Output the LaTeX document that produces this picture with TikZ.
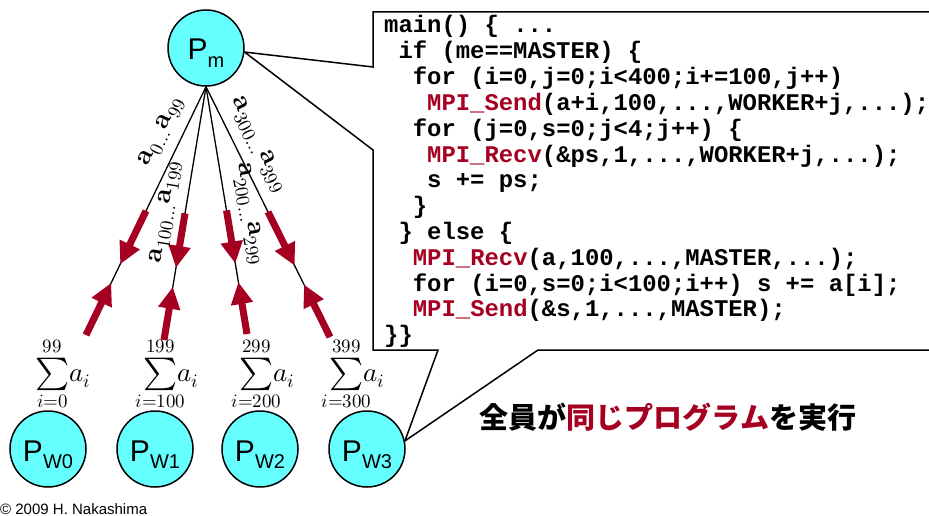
\documentclass[tikz,border=0pt]{standalone}
\usepackage{fontspec}
\usepackage{unicode-math}
\setmathfont{Latin Modern Math}
\usetikzlibrary{calc,arrows.meta}
\newfontfamily\sansf{Liberation Sans}
\newfontfamily\codefont{Liberation Mono}
\newfontfamily\cjk{Noto Sans CJK JP}
\definecolor{crim}{RGB}{165,0,33}
\definecolor{cyanfill}{RGB}{102,255,255}
\newcommand\plabel[1]{{\sansf\fontsize{30}{30}\selectfont P}\raisebox{-7.5pt}{\sansf\fontsize{20}{20}\selectfont #1}}
\newcommand\mpi[1]{\textcolor{crim}{#1}}
\newcommand\limclap[1]{\makebox[0pt]{$\scriptstyle #1$}}
\newcommand\partsum[2]{\mathop{\vcenter{\hbox{\scalebox{1.2}{$\sum$}}}}\limits_{\limclap{i=#1}}^{\limclap{#2}}\!a_i}
\pgfdeclarelayer{background}
\pgfsetlayers{background,main}
\begin{document}
\begin{tikzpicture}[x=1pt,y=-1pt,
  proc/.style={circle, draw, line width=1.5pt, fill=cyanfill, minimum size=76pt,
    inner sep=0pt, text height=31.5pt, text depth=7.5pt},
  fan/.style={line width=1.3pt},
  redarrow/.style={line width=7pt, draw=crim, -{Triangle[width=21pt,length=22pt]}},
  code/.style={anchor=base west, inner sep=0pt,
    font=\codefont\bfseries\fontsize{23.9}{25}\selectfont},
  elabel/.style={inner sep=0pt, font=\fontsize{27}{27}\selectfont},
  sumlbl/.style={inner sep=0pt, font=\fontsize{27}{30}\selectfont}]
\clip (0,0) rectangle (929,516);

% processes
\node[proc] (Pm) at (206,48) {\plabel{m}};
\node[proc] (W0) at (48,449) {\plabel{W0}};
\node[proc] (W1) at (155,449) {\plabel{W1}};
\node[proc] (W2) at (260,449) {\plabel{W2}};
\node[proc] (W3) at (367,449) {\plabel{W3}};

\coordinate (e1) at (86,335);
\coordinate (e2) at (164,340);
\coordinate (e3) at (247,334);
\coordinate (e4) at (330,337);

\begin{pgfonlayer}{background}
\fill[white] (0,0) rectangle (929,516);
% callout with the program text
\draw[line width=1.5pt, fill=white] (373,67) -- (373,12) -- (940,12) -- (940,350)
  -- (538,350) -- (W3.12) -- (438,350) -- (373,350) -- (373,150) -- (Pm.-6) -- cycle;
% data distribution and partial sums
\foreach \e in {e1,e2,e3,e4}{
  \draw[fan] (Pm.south) -- (\e);
  \draw[redarrow] ($(Pm.south)!0.5!(\e)$) -- ($(Pm.south)!0.715!(\e)$);
  \draw[redarrow] (\e) -- ($(Pm.south)!0.79!(\e)$);
}
\end{pgfonlayer}

\node[elabel, rotate=64] (l1) at (162,132) {$\mathbf{a}_{0\ldots}\mathbf{a}_{99}$};
\node[elabel, rotate=80.6] (l2) at (166,212) {$\mathbf{a}_{100\ldots}\mathbf{a}_{199}$};
\node[elabel, rotate=-80.6] (l3) at (249,214) {$\mathbf{a}_{200\ldots}\mathbf{a}_{299}$};
\node[elabel, rotate=-63.7] (l4) at (258,145) {$\mathbf{a}_{300\ldots}\mathbf{a}_{399}$};

\node[sumlbl] (s0) at (63,374) {$\partsum{0}{99}$};
\node[sumlbl] (s1) at (171,374) {$\partsum{100}{199}$};
\node[sumlbl] (s2) at (267,374) {$\partsum{200}{299}$};
\node[sumlbl] (s3) at (357,374) {$\partsum{300}{399}$};

% program
\node[code] (c1) at (384,33) {main() \{ ...};
\node[code] (c2) at (398.3,58.8) {if (me==MASTER) \{};
\node[code] (c3) at (412.7,84.6) {for (i=0,j=0;i<400;i+=100,j++)};
\node[code] (c4) at (427,110.4) {\mpi{MPI\_Send}(a+i,100,...,WORKER+j,...);};
\node[code] (c5) at (412.7,136.2) {for (j=0,s=0;j<4;j++) \{};
\node[code] (c6) at (427,162) {\mpi{MPI\_Recv}(\&ps,1,...,WORKER+j,...);};
\node[code] (c7) at (427,187.8) {s += ps;};
\node[code] (c8) at (412.7,213.6) {\}};
\node[code] (c9) at (398.3,239.4) {\} else \{};
\node[code] (c10) at (412.7,265.2) {\mpi{MPI\_Recv}(a,100,...,MASTER,...);};
\node[code] (c11) at (412.7,291) {for (i=0,s=0;i<100;i++) s += a[i];};
\node[code] (c12) at (412.7,316.8) {\mpi{MPI\_Send}(\&s,1,...,MASTER);};
\node[code] (c13) at (384,342.6) {\}\}};

\node (slogan) at (668,417) {\cjk\bfseries\fontsize{29}{29}\selectfont 全員が\textcolor{crim}{同じプログラム}を実行};
\node[anchor=base west, inner sep=0pt] (copy) at (0,514) {\sansf\fontsize{15}{15}\selectfont © 2009 H. Nakashima};
\end{tikzpicture}
\end{document}
